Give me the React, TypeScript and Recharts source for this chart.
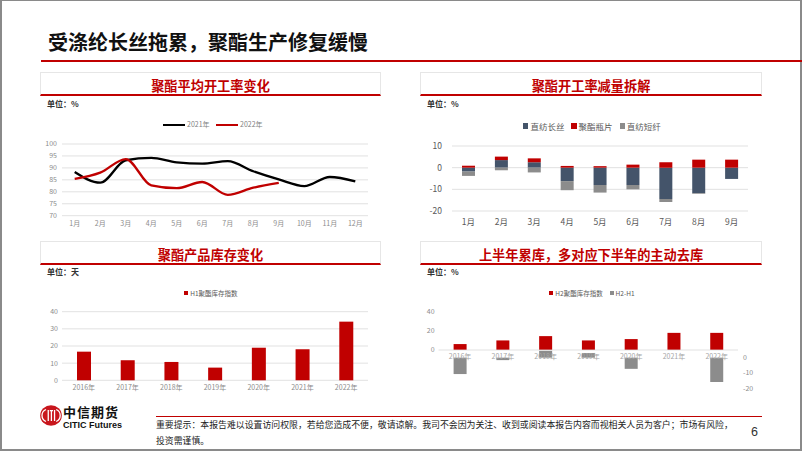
import React from 'react';
import {
  LineChart, Line, BarChart, Bar, XAxis, YAxis, CartesianGrid, ReferenceLine, LabelList,
} from 'recharts';

// ---------- data ----------
const months = ['1月', '2月', '3月', '4月', '5月', '6月', '7月', '8月', '9月', '10月', '11月', '12月'];
const rate2021 = [88.3, 83.8, 93.2, 94.2, 92.3, 91.8, 92.8, 88.6, 85.2, 82.4, 86.2, 84.4];
const rate2022 = [85.4, 88.0, 93.7, 82.7, 81.5, 84.1, 78.7, 81.7, 83.7];
const rateTicks = [70, 75, 80, 85, 90, 95, 100];

const months9 = months.slice(0, 9);
const filament = [-1.8, 3.5, 2.5, -6.2, -8.0, -8.0, -14.5, -11.8, -5.2];
const bottleChip = [0.9, 1.6, 1.8, 0.8, 0.7, 1.4, 2.5, 3.7, 3.7];
const staple = [-2.0, -1.2, -2.2, -4.2, -3.5, -2.0, -1.4, -0.3, 0];
const cutTicks = [-20, -10, 0, 10];

const years = ['2016年', '2017年', '2018年', '2019年', '2020年', '2021年', '2022年'];
const h1Inventory = [16.7, 11.7, 10.7, 7.4, 19.0, 18.1, 34.2];
const invTicks = [0, 10, 20, 30, 40];

const h2Inventory = [6.2, 10.0, 14.5, 10.0, 11.4, 17.9, 17.9];
const h2MinusH1 = [-10.7, -1.6, 4.5, 3.0, -7.3, 0, -15.9];
const leftTicks4 = [0, 20, 40];
const rightTicks4 = [-20, -10, 0];

// ---------- tables ----------
const rateData = months.map((m, i) => ({ m, y2021: rate2021[i], y2022: rate2022[i] }));
const cutData = months9.map((m, i) => ({ m, filament: filament[i], bottle: bottleChip[i], staple: staple[i] }));
const invData = years.map((y, i) => ({ y, h1: h1Inventory[i] }));
const h2Data = years.map((y, i) => ({ y, h2: h2Inventory[i], diff: h2MinusH1[i] }));

const FONT = '"Noto Sans CJK SC", "Noto Sans", "Liberation Sans", sans-serif';
const RED = '#C00000';
const DARK = '#44546A';
const GRAY = '#8C8C8C';
const GRID = '#D9D9D9';

const pos = (left: number, top: number, extra: React.CSSProperties = {}): React.CSSProperties => ({
  position: 'absolute', left, top, ...extra,
});

function Panel({ x, top, w, title, titleY }: { x: number; top: number; w: number; title: string; titleY: number }) {
  return (
    <>
      <div style={pos(x, top, {
        width: w, height: 24, boxSizing: 'border-box',
        borderTop: '1px solid #E6E6E6', borderLeft: '1px solid #E6E6E6', borderRight: '1px solid #E6E6E6',
        borderBottom: `2px solid ${RED}`,
      })} />
      <div style={pos(x, titleY - 10, {
        width: w, height: 20, lineHeight: '20px', textAlign: 'center', color: RED,
        fontWeight: 700, fontSize: 13.2, whiteSpace: 'nowrap',
      })}>{title}</div>
    </>
  );
}

function Unit({ x, y, text }: { x: number; y: number; text: string }) {
  return (
    <div style={pos(x, y - 6, { height: 12, lineHeight: '12px', fontSize: 8, fontWeight: 700, color: '#333' })}>{text}</div>
  );
}

function SwatchLegend({ cx, y, items, fontSize }: { cx: number; y: number; items: { label: string; color: string }[]; fontSize: number }) {
  return (
    <div style={pos(cx - 150, y - 7, {
      width: 300, height: 14, display: 'flex', justifyContent: 'center', alignItems: 'center',
      fontSize, color: '#595959', whiteSpace: 'nowrap',
    })}>
      {items.map((it, i) => (
        <span key={i} style={{ display: 'inline-flex', alignItems: 'center', marginLeft: i ? 7 : 0 }}>
          <span style={{ display: 'inline-block', width: fontSize * 0.6, height: fontSize * 0.6, background: it.color, marginRight: 2 }} />
          {it.label}
        </span>
      ))}
    </div>
  );
}

function Logo() {
  return (
    <svg style={pos(38, 404)} width={26} height={23} viewBox="0 0 26 23">
      <ellipse cx={13} cy={11.5} rx={10.8} ry={10.2} fill="#C8161D" />
      <path d="M8 5.5 A6.5 6.5 0 0 0 8 17.5" stroke="#fff" strokeWidth={1.3} fill="none" />
      <rect x={9.6} y={6} width={1.3} height={11} fill="#fff" />
      <rect x={11.8} y={6} width={3.2} height={1.3} fill="#fff" />
      <rect x={12.75} y={6} width={1.3} height={11} fill="#fff" />
      <rect x={15.9} y={6} width={1.3} height={11} fill="#fff" />
      <path d="M18.2 5.5 A6.5 6.5 0 0 1 18.2 17.5" stroke="#fff" strokeWidth={1.3} fill="none" />
    </svg>
  );
}

const axisTick7 = { fill: '#8C8C8C', fontSize: 7, fontFamily: FONT };

export default function App() {
  return (
    <div style={pos(0, 0, {
      width: 802, height: 452, background: '#fff', fontFamily: FONT, overflow: 'hidden',
    })}>
      {/* slide frame */}
      <div style={pos(0, 0, {
        width: 802, height: 451, boxSizing: 'border-box',
        borderTop: '1px solid #8A8A8A', borderLeft: '2px solid #8A8A8A', borderRight: '2px solid #8A8A8A', borderBottom: '2px solid #8A8A8A',
      })} />

      {/* header */}
      <div style={pos(48, 30, { height: 24, lineHeight: '24px', fontSize: 20, fontWeight: 700, color: '#111', whiteSpace: 'nowrap' })}>
        受涤纶长丝拖累，聚酯生产修复缓慢
      </div>
      <div style={pos(41, 59.5, { width: 761, height: 2.5, background: RED })} />

      {/* panels */}
      <Panel x={40} top={72} w={341} title="聚酯平均开工率变化" titleY={85.5} />
      <Panel x={420} top={72} w={342} title="聚酯开工率减量拆解" titleY={85.5} />
      <Panel x={40} top={241} w={341} title="聚酯产品库存变化" titleY={254.5} />
      <Panel x={420} top={241} w={342} title="上半年累库，多对应下半年的主动去库" titleY={254.5} />

      <Unit x={47} y={104} text="单位：%" />
      <Unit x={427} y={104} text="单位：%" />
      <Unit x={47} y={272} text="单位：天" />
      <Unit x={427} y={272} text="单位：%" />

      {/* chart 1 legend */}
      <div style={pos(163, 124, { width: 22, height: 2.2, background: '#000' })} />
      <div style={pos(187, 119, { height: 10, lineHeight: '10px', fontSize: 7, color: '#7F7F7F' })}>2021年</div>
      <div style={pos(216, 124, { width: 22, height: 2.2, background: RED })} />
      <div style={pos(240, 119, { height: 10, lineHeight: '10px', fontSize: 7, color: '#7F7F7F' })}>2022年</div>

      {/* chart 1 */}
      <div style={pos(40, 135)}>
        <LineChart width={340} height={100} data={rateData} margin={{ top: 9, right: 12, bottom: 5, left: 0 }}>
          <CartesianGrid vertical={false} stroke={GRID} strokeWidth={0.8} />
          <XAxis dataKey="m" interval={0} height={14.3} padding={{ left: 12.7, right: 12.7 }} axisLine={false} tickLine={false} tickSize={0} tickMargin={5} tick={axisTick7} />
          <YAxis domain={[70, 100]} ticks={rateTicks} interval={0} width={22} axisLine={false} tickLine={false} tickSize={0} tickMargin={5} tick={axisTick7} />
          <Line dataKey="y2021" type="monotone" stroke="#000" strokeWidth={2.3} dot={false} isAnimationActive={false} />
          <Line dataKey="y2022" type="monotone" stroke={RED} strokeWidth={2.3} dot={false} isAnimationActive={false} connectNulls={false} />
        </LineChart>
      </div>

      {/* chart 2 legend */}
      <SwatchLegend cx={592} y={126} fontSize={8.5} items={[
        { label: '直纺长丝', color: DARK }, { label: '聚酯瓶片', color: RED }, { label: '直纺短纤', color: GRAY },
      ]} />

      {/* chart 2 */}
      <div style={pos(410, 136)}>
        <BarChart width={360} height={100} data={cutData} stackOffset="sign" barSize={13} margin={{ top: 10, right: 22, bottom: 7, left: 0 }}>
          <CartesianGrid vertical={false} stroke={GRID} strokeWidth={0.8} />
          <XAxis dataKey="m" interval={0} height={18} axisLine={false} tickLine={false} tickSize={0} tickMargin={7.5}
            tick={{ fill: '#595959', fontSize: 8.5, fontFamily: FONT }} />
          <YAxis domain={[-20, 10]} ticks={cutTicks} interval={0} width={42} axisLine={false} tickLine={false} tickSize={0} tickMargin={10}
            tick={{ fill: '#595959', fontSize: 8.5, fontFamily: FONT }} />
          <Bar dataKey="filament" stackId="s" fill={DARK} isAnimationActive={false} />
          <Bar dataKey="bottle" stackId="s" fill={RED} isAnimationActive={false} />
          <Bar dataKey="staple" stackId="s" fill={GRAY} isAnimationActive={false} />
        </BarChart>
      </div>

      {/* chart 3 legend */}
      <SwatchLegend cx={211} y={292.7} fontSize={6.5} items={[{ label: 'H1聚酯库存指数', color: RED }]} />

      {/* chart 3 */}
      <div style={pos(40, 300)}>
        <BarChart width={340} height={100} data={invData} barSize={14} margin={{ top: 11.7, right: 12, bottom: 5.7, left: 0 }}>
          <CartesianGrid vertical={false} stroke={GRID} strokeWidth={0.8} />
          <XAxis dataKey="y" interval={0} height={14} axisLine={false} tickLine={false} tickSize={0} tickMargin={4.5} tick={axisTick7} />
          <YAxis domain={[0, 40]} ticks={invTicks} interval={0} width={22} axisLine={false} tickLine={false} tickSize={0} tickMargin={4} tick={axisTick7} />
          <Bar dataKey="h1" fill={RED} isAnimationActive={false} />
        </BarChart>
      </div>

      {/* chart 4 legend */}
      <SwatchLegend cx={592} y={292.7} fontSize={6.5} items={[
        { label: 'H2聚酯库存指数', color: RED }, { label: 'H2-H1', color: GRAY },
      ]} />

      {/* chart 4 */}
      <div style={pos(410, 300)}>
        <BarChart width={360} height={100} data={h2Data} barSize={13} margin={{ top: 11.7, right: 0, bottom: 11.7, left: 0 }}>
          <XAxis xAxisId="a" dataKey="y" hide />
          <XAxis xAxisId="b" dataKey="y" hide />
          <YAxis yAxisId="l" domain={[-40, 40]} ticks={leftTicks4} interval={0} width={28.6} axisLine={false} tickLine={false} tickSize={0} tickMargin={4} tick={axisTick7} />
          <YAxis yAxisId="r" orientation="right" domain={[-20, 30]} ticks={rightTicks4} interval={0} width={32} axisLine={false} tickLine={false} tickSize={0} tickMargin={5} tick={axisTick7} />
          <ReferenceLine yAxisId="l" xAxisId="a" y={0} stroke={GRID} strokeWidth={0.8} />
          <Bar xAxisId="a" yAxisId="l" dataKey="h2" fill={RED} isAnimationActive={false}>
            <LabelList dataKey="y" position="bottom" offset={4} fill="#A6A6A6" fontSize={7} fontFamily={FONT} />
          </Bar>
          <Bar xAxisId="b" yAxisId="r" dataKey="diff" fill={GRAY} isAnimationActive={false} />
        </BarChart>
      </div>

      {/* footer */}
      <Logo />
      <div style={pos(63, 405, { height: 14, lineHeight: '14px', fontSize: 13, fontWeight: 700, color: '#111', letterSpacing: 1, whiteSpace: 'nowrap' })}>中信期货</div>
      <div style={pos(63, 419.5, { height: 10, lineHeight: '10px', fontSize: 9, fontWeight: 700, color: '#111', fontFamily: '"Liberation Sans Narrow", "Liberation Sans", sans-serif', whiteSpace: 'nowrap' })}>CITIC Futures</div>
      <div style={pos(156, 415.5, { width: 606, height: 1.5, background: RED })} />
      <div style={pos(156, 419, { height: 12, lineHeight: '12px', fontSize: 8.9, color: '#222', whiteSpace: 'nowrap' })}>
        重要提示：本报告难以设置访问权限，若给您造成不便，敬请谅解。我司不会因为关注、收到或阅读本报告内容而视相关人员为客户；市场有风险，
      </div>
      <div style={pos(156, 435, { height: 12, lineHeight: '12px', fontSize: 8.9, color: '#222', whiteSpace: 'nowrap' })}>
        投资需谨慎。
      </div>
      <div style={pos(751, 424, { height: 16, lineHeight: '16px', fontSize: 12.5, color: '#333', fontFamily: '"Liberation Sans", sans-serif' })}>6</div>
    </div>
  );
}
